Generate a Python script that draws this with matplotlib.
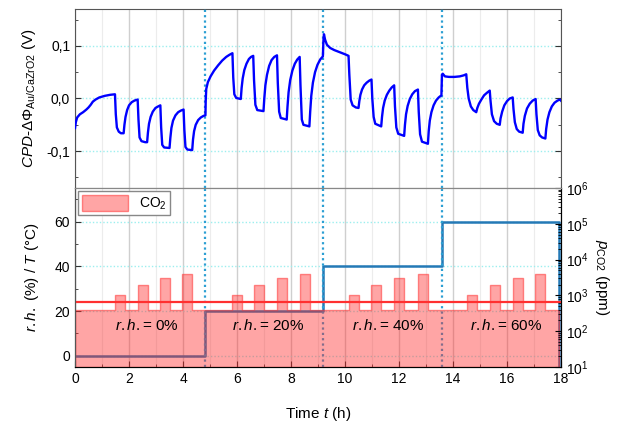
"""
CPD response of Au/CaZrO2 to CO2 pulses at different humidity levels
"""
import matplotlib
matplotlib.use("Agg")
import matplotlib.pyplot as plt
from matplotlib.ticker import MultipleLocator, LogLocator, NullFormatter

# CPD trace (time in h, value in V)
cpd_t = [0.00, 0.03, 0.08, 0.18, 0.30, 0.42, 0.50, 0.58, 0.66, 0.76, 0.90, 1.10, 1.30, 1.48,
         1.51, 1.55, 1.62, 1.70, 1.80,
         1.83, 1.87, 1.93, 2.00, 2.10, 2.20, 2.32,
         2.35, 2.39, 2.46, 2.60, 2.67,
         2.70, 2.74, 2.80, 2.88, 2.98, 3.08, 3.16,
         3.19, 3.23, 3.30, 3.50,
         3.53, 3.57, 3.63, 3.72, 3.82, 3.92, 4.02,
         4.05, 4.09, 4.16, 4.34,
         4.37, 4.41, 4.47, 4.56, 4.66, 4.76, 4.83,
         4.84, 4.86, 4.92, 5.02, 5.15, 5.30, 5.45, 5.60, 5.72, 5.83,
         5.86, 5.90, 5.97, 6.14,
         6.17, 6.21, 6.27, 6.35, 6.44, 6.52, 6.60,
         6.63, 6.68, 6.75, 6.98,
         7.01, 7.05, 7.11, 7.19, 7.28, 7.38, 7.48,
         7.51, 7.56, 7.62, 7.84,
         7.87, 7.91, 7.97, 8.05, 8.14, 8.23, 8.32,
         8.35, 8.40, 8.46, 8.68,
         8.71, 8.75, 8.81, 8.89, 8.98, 9.08, 9.18,
         9.20, 9.22, 9.26, 9.33, 9.45, 9.60, 9.80, 10.00, 10.13,
         10.16, 10.21, 10.28, 10.40, 10.50,
         10.53, 10.57, 10.63, 10.71, 10.80, 10.90, 10.98,
         11.01, 11.06, 11.12, 11.34,
         11.37, 11.41, 11.47, 11.55, 11.64, 11.73, 11.82,
         11.85, 11.90, 11.97, 12.19,
         12.22, 12.26, 12.32, 12.40, 12.49, 12.59, 12.70,
         12.73, 12.78, 12.85, 13.07,
         13.10, 13.14, 13.20, 13.28, 13.37, 13.47, 13.57,
         13.59, 13.62, 13.70, 13.85, 14.05, 14.25, 14.40, 14.49,
         14.53, 14.58, 14.66, 14.75, 14.86,
         14.90, 14.96, 15.05, 15.15, 15.26, 15.36,
         15.39, 15.44, 15.52, 15.62, 15.73,
         15.76, 15.82, 15.90, 16.00, 16.10, 16.21,
         16.24, 16.29, 16.36, 16.45, 16.58,
         16.61, 16.66, 16.74, 16.84, 16.95, 17.06,
         17.09, 17.14, 17.21, 17.30, 17.42,
         17.45, 17.50, 17.57, 17.66, 17.76, 17.87, 17.96, 18.05]
cpd_v = [-0.056, -0.045, -0.036, -0.030, -0.026, -0.021, -0.017, -0.012, -0.006, -0.002, 0.002, 0.005, 0.007, 0.008,
         -0.030, -0.055, -0.063, -0.066, -0.066,
         -0.050, -0.035, -0.022, -0.013, -0.007, -0.004, -0.002,
         -0.040, -0.074, -0.081, -0.083, -0.083,
         -0.065, -0.048, -0.035, -0.025, -0.018, -0.015, -0.013,
         -0.055, -0.088, -0.093, -0.094,
         -0.075, -0.056, -0.042, -0.032, -0.026, -0.023, -0.021,
         -0.060, -0.092, -0.097, -0.098,
         -0.078, -0.062, -0.050, -0.041, -0.036, -0.033, -0.032,
         -0.005, 0.018, 0.031, 0.042, 0.053, 0.063, 0.072, 0.079, 0.083, 0.086,
         0.040, 0.008, 0.001, -0.001,
         0.020, 0.038, 0.054, 0.066, 0.075, 0.079, 0.081,
         0.035, -0.012, -0.022, -0.024,
         0.000, 0.025, 0.045, 0.062, 0.073, 0.079, 0.082,
         0.030, -0.025, -0.037, -0.040,
         -0.015, 0.012, 0.035, 0.053, 0.066, 0.074, 0.079,
         0.025, -0.040, -0.050, -0.053,
         -0.025, 0.005, 0.030, 0.050, 0.064, 0.074, 0.080,
         0.110, 0.122, 0.112, 0.102, 0.096, 0.092, 0.088, 0.084, 0.081,
         0.045, -0.002, -0.013, -0.017, -0.018,
         -0.005, 0.007, 0.017, 0.025, 0.030, 0.034, 0.036,
         0.000, -0.035, -0.048, -0.053,
         -0.035, -0.018, -0.004, 0.007, 0.015, 0.021, 0.025,
         -0.015, -0.055, -0.067, -0.071,
         -0.050, -0.030, -0.014, -0.001, 0.008, 0.014, 0.017,
         -0.025, -0.068, -0.082, -0.086,
         -0.062, -0.042, -0.026, -0.013, -0.004, 0.002, 0.006,
         0.045, 0.047, 0.042, 0.041, 0.041, 0.042, 0.044, 0.046,
         0.020, 0.000, -0.015, -0.022, -0.026,
         -0.018, -0.010, -0.002, 0.006, 0.011, 0.015,
         -0.005, -0.030, -0.043, -0.048, -0.050,
         -0.038, -0.025, -0.013, -0.005, 0.000, 0.002,
         -0.020, -0.045, -0.058, -0.063, -0.065,
         -0.048, -0.033, -0.019, -0.010, -0.004, -0.001,
         -0.030, -0.060, -0.070, -0.074, -0.076,
         -0.058, -0.040, -0.026, -0.015, -0.008, -0.004, -0.002, -0.007]

# humidity steps (set value holds until next switch time)
rh_t = [0, 4.83, 9.18, 13.58, 17.93]
rh_pct = [0, 20, 40, 60, -10]
rh_labels = ["0%", "20%", "40%", "60%"]
rh_label_t = [2.65, 7.15, 11.6, 15.97]

# temperature
temp_t = [0, 18]
temp_c = [24, 24]

# CO2 pulses on top of the 400 ppm background
base_ppm = 400
pulse_on = [1.48, 2.32, 3.14, 3.97, 5.82, 6.64, 7.48, 8.32,
            10.14, 10.97, 11.81, 12.70, 14.52, 15.36, 16.21, 17.05]
pulse_off = [1.85, 2.69, 3.51, 4.34, 6.19, 7.01, 7.85, 8.69,
             10.51, 11.34, 12.18, 13.07, 14.89, 15.73, 16.58, 17.42]
pulse_ppm = [1000, 2000, 3000, 4000] * 4
co2_end = 17.93

# step profile for the fill
co2_t = [0]
co2_ppm = [base_ppm]
for on, off, ppm in zip(pulse_on, pulse_off, pulse_ppm):
    co2_t += [on, off]
    co2_ppm += [ppm, base_ppm]
co2_t.append(co2_end)
co2_ppm.append(base_ppm)

plt.rcParams["font.family"] = ["Liberation Sans", "DejaVu Sans"]
plt.rcParams["mathtext.fontset"] = "custom"
plt.rcParams["mathtext.rm"] = "Liberation Sans"
plt.rcParams["mathtext.it"] = "Liberation Sans:italic"
plt.rcParams["mathtext.bf"] = "Liberation Sans:bold"
plt.rcParams["font.size"] = 10

fig = plt.figure(figsize=(6.18, 4.22), dpi=100)
ax_top = fig.add_axes([0.1214, 0.5545, 0.7864, 0.4242])
ax_bot = fig.add_axes([0.1214, 0.1303, 0.7864, 0.4242])

grid_h = dict(color="#9cefef", ls=(0, (1, 1.5)), lw=1.0)
vline = dict(color="#2c9fd3", ls=(0, (1, 1.4)), lw=1.6)

for ax in (ax_top, ax_bot):
    ax.set_xlim(0, 18)
    ax.xaxis.set_major_locator(MultipleLocator(2))
    ax.xaxis.set_minor_locator(MultipleLocator(1))
    ax.grid(True, which="major", axis="x", color="#cfcfcf", lw=1.0)
    ax.grid(True, which="minor", axis="x", color="#ececec", lw=0.8)
    ax.grid(True, which="major", axis="y", **grid_h)
    ax.set_axisbelow(True)
    for x in rh_t[1:4]:
        ax.axvline(x, zorder=4, **vline)
    ax.tick_params(which="both", direction="in", colors="#333333", labelcolor="black")
    ax.tick_params(which="major", length=4)
    ax.tick_params(which="minor", length=2)

# --- top panel: CPD ---
ax_top.plot(cpd_t, cpd_v, color="#0000ff", lw=1.7, zorder=5)
ax_top.set_ylim(-0.17, 0.17)
ax_top.yaxis.set_major_locator(MultipleLocator(0.1))
ax_top.yaxis.set_minor_locator(MultipleLocator(0.05))
ax_top.set_yticks([-0.1, 0.0, 0.1], ["-0,1", "0,0", "0,1"])
ax_top.tick_params(axis="x", which="both", bottom=False, labelbottom=False)
ax_top.tick_params(axis="y", which="both", right=True)
ax_top.set_ylabel(r"$\mathit{CPD}$-$\mathit{\Delta\Phi}_{\mathrm{Au/CaZrO2}}$ (V)", fontsize=11, labelpad=6)
for side in ["top", "left", "right"]:
    ax_top.spines[side].set_color("#555555")
ax_top.spines["bottom"].set_color("#888888")

# --- bottom panel: r.h., T, CO2 ---
ax_bot.step(rh_t, rh_pct, where="post", color="#2479b6", lw=1.8, zorder=3)
ax_bot.set_ylim(-5, 75)
ax_bot.yaxis.set_major_locator(MultipleLocator(20))
ax_bot.yaxis.set_minor_locator(MultipleLocator(10))
ax_bot.set_xlabel(r"Time $\mathit{t}$ (h)", fontsize=11, labelpad=14)
ax_bot.set_ylabel(r"$\mathit{r.h.}$ (%) / $\mathit{T}$ (°C)", fontsize=11, labelpad=10)

ax_co2 = ax_bot.twinx()
ax_co2.set_yscale("log")
ax_co2.set_ylim(10, 1e6)
ax_co2.yaxis.set_major_locator(LogLocator(base=10, numticks=10))
ax_co2.yaxis.set_minor_locator(LogLocator(base=10, subs=range(2, 10), numticks=10))
ax_co2.yaxis.set_minor_formatter(NullFormatter())
ax_co2.tick_params(which="both", direction="in", colors="black")
ax_co2.tick_params(which="major", length=4)
ax_co2.tick_params(which="minor", length=2)
co2_fill = ax_co2.fill_between(co2_t, 10, co2_ppm, step="post",
                               facecolor=(1, 0.16, 0.16, 0.42), edgecolor=(1, 0.2, 0.2, 0.55),
                               lw=1.0, label="CO$_2$")
ax_co2.plot(temp_t, temp_c, transform=ax_bot.transData, color="#ff3030", lw=1.6)
for t, lab in zip(rh_label_t, rh_labels):
    ax_co2.text(t, 13.5, r"$\mathit{r.h.}$= " + lab, transform=ax_bot.transData,
                ha="center", va="center", fontsize=11)
ax_co2.set_ylabel(r"$\mathit{p}_{\mathrm{CO2}}$ (ppm)", rotation=270, fontsize=11, labelpad=16)
leg = ax_co2.legend(handles=[co2_fill], loc="upper left", fancybox=False,
                    edgecolor="#888888", framealpha=1, borderaxespad=0.25,
                    handlelength=3.3, handleheight=1.4, borderpad=0.25, fontsize=10)
leg.get_frame().set_linewidth(1.0)

ax_co2.spines["top"].set_color("#888888")
ax_bot.spines["top"].set_color("#888888")
ax_co2.spines["left"].set_color("#555555")
ax_co2.spines["bottom"].set_color("black")
ax_co2.spines["right"].set_color("black")

fig.savefig("out.png", dpi=100)
